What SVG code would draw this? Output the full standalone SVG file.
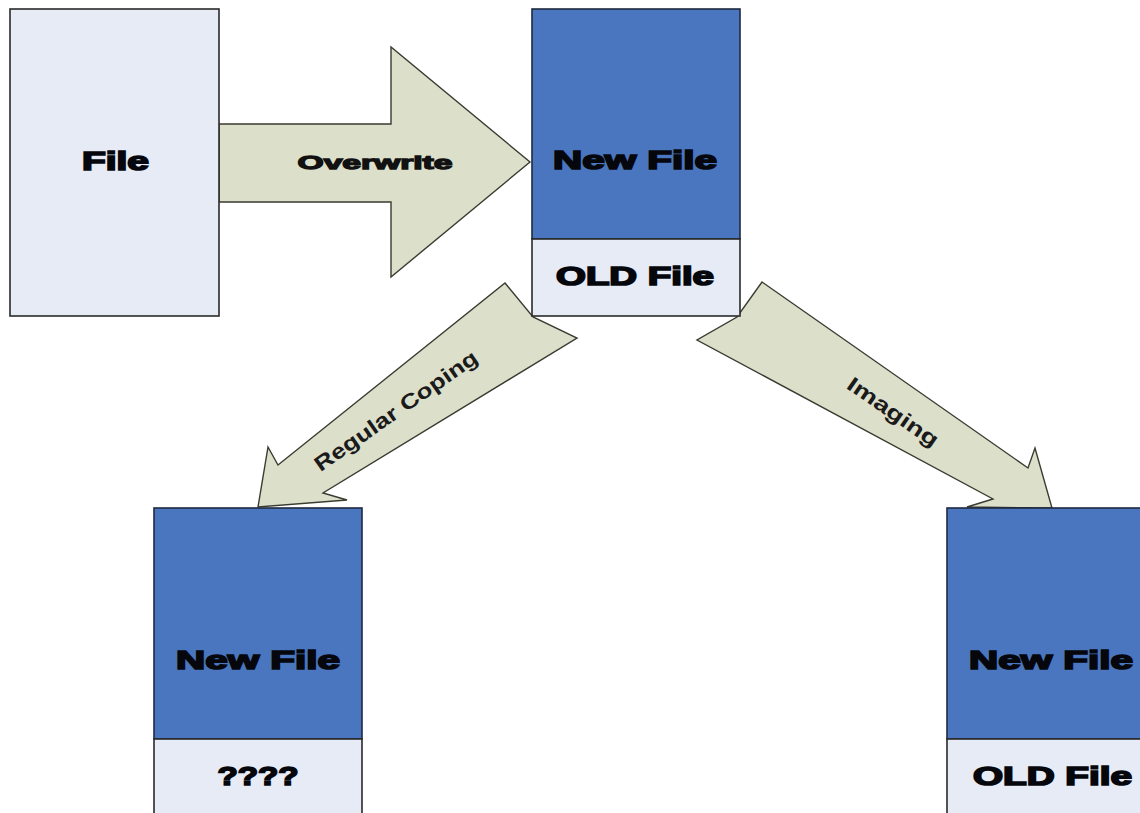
<svg xmlns="http://www.w3.org/2000/svg" width="1140" height="813" viewBox="0 0 1140 813">
<style>
.light{fill:#e6ebf6;stroke:#2a2a2a;stroke-width:1.6}
.blue{fill:#4a76bf;stroke:#1e2a40;stroke-width:1.6}
.arrow{fill:#dcdfca;stroke:#3a3a30;stroke-width:1.4;stroke-linejoin:miter}
.big{font-family:"Liberation Sans",Arial,sans-serif;font-weight:bold;font-size:26px;fill:#05070d;stroke:#05070d;stroke-width:1.7;text-anchor:middle}
.mid{font-family:"Liberation Sans",Arial,sans-serif;font-weight:bold;font-size:19px;fill:#111;stroke:#111;stroke-width:1.3;text-anchor:middle}
.rot{font-family:"Liberation Sans",Arial,sans-serif;font-weight:bold;font-size:21px;fill:#1a1a1a;text-anchor:middle}
</style>
<rect width="1140" height="813" fill="#ffffff"/>
<g id="connectors">
<polygon class="arrow" points="219,124 391,124 391,47 530,162 391,277 391,202 219,202"/>
<polygon class="arrow" points="505,283 533,317 577,338 323,493 347,500 258,507 268,447 278,465"/>
<polygon class="arrow" points="762,282 1028,468 1035,448 1052,508 967,507 993,499 697,340 737,317"/>
<text class="mid" x="375" y="169" textLength="155" lengthAdjust="spacingAndGlyphs">Overwrite</text>
<text class="rot" transform="translate(396,411) rotate(-35)" x="0" y="7" textLength="194" lengthAdjust="spacingAndGlyphs">Regular Coping</text>
<text class="rot" transform="translate(893,412) rotate(34.5)" x="0" y="7" textLength="106" lengthAdjust="spacingAndGlyphs">Imaging</text>
</g>
<g id="file">
<rect class="light" x="10" y="9" width="209" height="307"/>
<text class="big" x="115.5" y="170" textLength="67" lengthAdjust="spacingAndGlyphs">File</text>
</g>
<g id="overwritten">
<rect class="blue" x="532" y="9" width="208" height="230"/>
<rect class="light" x="532" y="239" width="208" height="77"/>
<text class="big" x="635" y="169" textLength="164" lengthAdjust="spacingAndGlyphs">New File</text>
<text class="big" x="635" y="285" textLength="158" lengthAdjust="spacingAndGlyphs">OLD File</text>
</g>
<g id="regular-copy">
<rect class="blue" x="154" y="508" width="208" height="231"/>
<rect class="light" x="154" y="739" width="208" height="90"/>
<text class="big" x="258" y="669" textLength="164" lengthAdjust="spacingAndGlyphs">New File</text>
<text class="big" x="258" y="785" textLength="81" lengthAdjust="spacingAndGlyphs">????</text>
</g>
<g id="image-copy">
<rect class="blue" x="947" y="508" width="208" height="231"/>
<rect class="light" x="947" y="739" width="208" height="90"/>
<text class="big" x="1051" y="669" textLength="164" lengthAdjust="spacingAndGlyphs">New File</text>
<text class="big" x="1052.5" y="785" textLength="159" lengthAdjust="spacingAndGlyphs">OLD File</text>
</g>
</svg>
